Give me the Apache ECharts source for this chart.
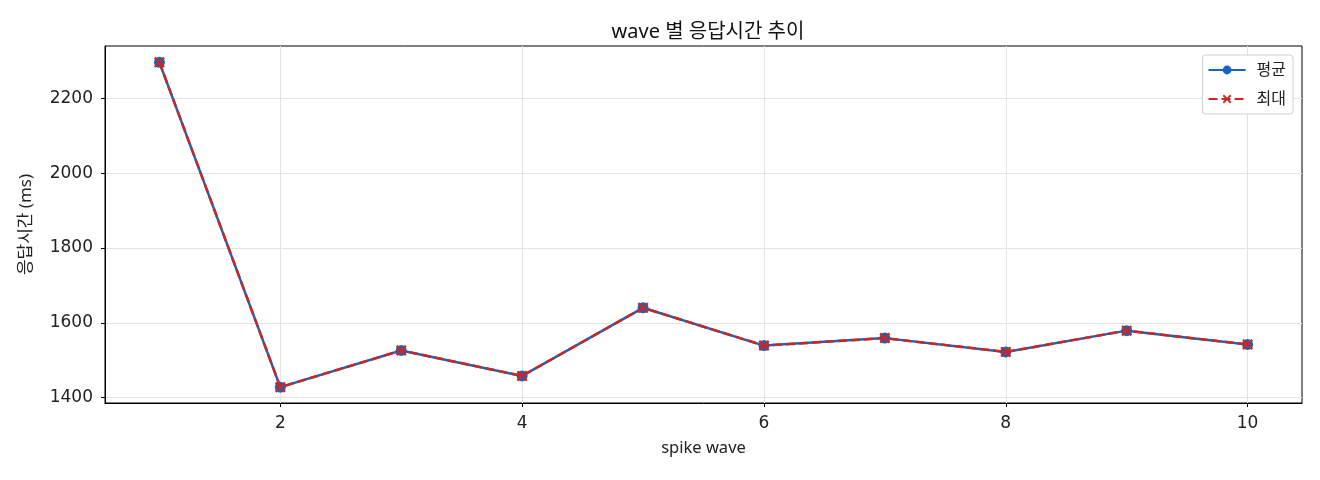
<!DOCTYPE html>
<html>
<head>
<meta charset="utf-8">
<script src="https://cdn.jsdelivr.net/npm/echarts@6/dist/echarts.min.js"></script>
<style>
  html, body { margin: 0; padding: 0; background: #fff; }
  #chart { width: 1320px; height: 480px; }
</style>
</head>
<body>
<div id="chart"></div>
<script>
// 데이터
var waves = [1, 2, 3, 4, 5, 6, 7, 8, 9, 10];
var avgMs = [2296, 1428, 1526, 1458, 1640, 1539, 1559, 1522, 1579, 1542];
var maxMs = [2296, 1428, 1526, 1458, 1640, 1539, 1559, 1522, 1579, 1542];
var xTicks = [2, 4, 6, 8, 10];
var yTicks = [1400, 1600, 1800, 2000, 2200];

var font = '"Noto Sans", "Noto Sans CJK KR", sans-serif';
var numFont = '"DejaVu Sans", sans-serif';
var xMark = 'path://M1.5,0 L5,3.5 L8.5,0 L10,1.5 L6.5,5 L10,8.5 L8.5,10 L5,6.5 L1.5,10 L0,8.5 L3.5,5 L0,1.5 Z';

function pairs(vals) {
    return waves.map(function (w, i) { return [w, vals[i]]; });
}

var myChart = echarts.init(document.getElementById('chart'));
var option = {
    backgroundColor: '#fff',
    animation: false,
    textStyle: { fontFamily: font },
    title: {
        text: 'wave 별 응답시간 추이',
        left: 703,
        textAlign: 'center',
        top: 17,
        textStyle: { fontSize: 20, fontWeight: 'normal', color: '#111', fontFamily: font }
    },
    legend: {
        right: 27,
        top: 55,
        orient: 'vertical',
        itemWidth: 37,
        itemHeight: 11,
        itemGap: 13,
        padding: [7, 7, 7, 5],
        borderColor: '#d0d0d0',
        borderWidth: 1,
        borderRadius: 3,
        backgroundColor: '#fff',
        textStyle: { fontSize: 16, color: '#222', fontFamily: font, padding: [0, 0, 0, 6] },
        data: ['평균', '최대']
    },
    grid: {
        left: 105,
        right: 18,
        top: 46,
        bottom: 77,
        show: true,
        borderColor: '#000',
        borderWidth: 1
    },
    xAxis: {
        type: 'value',
        min: 0.55,
        max: 10.45,
        name: 'spike wave',
        nameLocation: 'middle',
        nameGap: 37,
        nameTextStyle: { fontSize: 16.5, color: '#222', fontFamily: font },
        axisLine: { show: true, lineStyle: { color: '#000', width: 1 } },
        axisTick: { show: true, length: 4, lineStyle: { color: '#000' }, customValues: xTicks },
        axisLabel: { fontSize: 17, color: '#222', margin: 12, fontFamily: numFont, customValues: xTicks },
        splitLine: { show: true, lineStyle: { color: '#e3e3e3', width: 1 } }
    },
    yAxis: {
        type: 'value',
        min: 1385.6,
        max: 2339.7,
        name: '응답시간 (ms)',
        nameLocation: 'middle',
        nameGap: 70,
        nameTextStyle: { fontSize: 17, color: '#222', fontFamily: font },
        axisLine: { show: true, lineStyle: { color: '#000', width: 1 } },
        axisTick: { show: true, length: 4, lineStyle: { color: '#000' }, customValues: yTicks },
        axisLabel: {
            fontSize: 17, color: '#222', margin: 12, fontFamily: numFont, customValues: yTicks,
            formatter: function (v) { return String(v); }
        },
        splitLine: { show: true, lineStyle: { color: '#e3e3e3', width: 1 } }
    },
    series: [{
        name: '평균',
        type: 'line',
        data: pairs(avgMs),
        symbol: 'circle',
        symbolSize: 11,
        itemStyle: { color: '#1565c0' },
        lineStyle: { color: '#1565c0', width: 2.5 },
        z: 2
    }, {
        name: '최대',
        type: 'line',
        data: pairs(maxMs),
        symbol: xMark,
        symbolSize: 11,
        itemStyle: { color: '#c62828' },
        lineStyle: { color: '#c62828', width: 2.5, type: [9, 4] },
        z: 3
    }]
};
myChart.setOption(option);
</script>
</body>
</html>
